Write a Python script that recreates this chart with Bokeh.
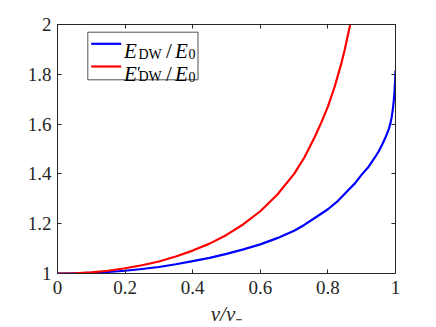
from bokeh.plotting import figure
from bokeh.models import LinearAxis, FixedTicker, NumeralTickFormatter, Label, Range1d, BoxAnnotation
from bokeh.embed import file_html
from bokeh.resources import INLINE

# ---- data ----
blue_v = [0.00, 0.05, 0.10, 0.15, 0.20, 0.25, 0.30, 0.35, 0.40, 0.45, 0.50, 0.55,
          0.60, 0.65, 0.70, 0.73, 0.76, 0.80, 0.83, 0.86, 0.88, 0.90, 0.92, 0.94,
          0.95, 0.96, 0.97, 0.975, 0.98, 0.985, 0.989, 0.992, 0.995, 0.997, 0.999, 1.000]
blue_e = [1.000, 1.001, 1.003, 1.006, 1.011, 1.018, 1.026, 1.037, 1.050, 1.063, 1.079, 1.097,
          1.117, 1.142, 1.172, 1.195, 1.222, 1.258, 1.292, 1.334, 1.362, 1.397, 1.428, 1.468,
          1.490, 1.516, 1.545, 1.562, 1.580, 1.603, 1.630, 1.658, 1.695, 1.730, 1.775, 1.815]

red_v = [0.00, 0.05, 0.10, 0.15, 0.20, 0.25, 0.30, 0.35, 0.40, 0.45, 0.50, 0.55,
         0.60, 0.65, 0.70, 0.73, 0.76, 0.78, 0.80, 0.82, 0.84, 0.85, 0.86, 0.866]
red_e = [1.000, 1.001, 1.005, 1.011, 1.021, 1.033, 1.048, 1.068, 1.092, 1.120, 1.155, 1.198,
         1.250, 1.316, 1.400, 1.465, 1.545, 1.605, 1.670, 1.750, 1.845, 1.900, 1.963, 2.000]

x_ticks = [0, 0.2, 0.4, 0.6, 0.8, 1]
y_ticks = [1, 1.2, 1.4, 1.6, 1.8, 2]
X0, X1 = 0, 1
Y0, Y1 = 1, 2

FW, FH = 338, 249
AX = "#262626"
FONT = "Liberation Serif"

p = figure(frame_width=FW, frame_height=FH, x_range=Range1d(X0, X1), y_range=Range1d(Y0, Y1),
           output_backend="svg", toolbar_location=None,
           min_border_left=57, min_border_right=33, min_border_top=24, min_border_bottom=46,
           x_axis_location=None, y_axis_location=None)
p.grid.visible = False
p.outline_line_color = None


def style(ax, labels=True):
    ax.axis_line_color = AX
    ax.axis_line_width = 1
    ax.major_tick_line_color = AX
    ax.major_tick_in = 4
    ax.major_tick_out = 0
    ax.minor_tick_line_color = None
    ax.major_label_text_font = FONT
    if labels:
        ax.major_label_text_font_size = "19px"
        ax.major_label_text_color = AX
    else:
        ax.major_label_text_font_size = "1px"
        ax.major_label_text_color = None
        ax.major_label_standoff = 0


xb = LinearAxis(ticker=FixedTicker(ticks=x_ticks), formatter=NumeralTickFormatter(format="0.[0]"))
style(xb)
xb.major_label_standoff = 7
xb.axis_label = "v/v\u208b"
xb.axis_label_text_font = FONT
xb.axis_label_text_font_style = "italic"
xb.axis_label_text_font_size = "21px"
xb.axis_label_text_color = AX
xb.axis_label_standoff = 5
p.add_layout(xb, "below")

yl = LinearAxis(ticker=FixedTicker(ticks=y_ticks), formatter=NumeralTickFormatter(format="0.[0]"))
style(yl)
yl.major_label_standoff = 6
p.add_layout(yl, "left")

xt = LinearAxis(ticker=FixedTicker(ticks=x_ticks))
style(xt, labels=False)
p.add_layout(xt, "above")
yr = LinearAxis(ticker=FixedTicker(ticks=y_ticks))
style(yr, labels=False)
p.add_layout(yr, "right")

p.line(blue_v, blue_e, line_color="#0000ff", line_width=2.2, line_join="round")
p.line(red_v, red_e, line_color="#ff0000", line_width=2.2, line_join="round")


# ---- hand-made legend (positions in frame pixels) ----
def fx(px):
    return X0 + px / FW * (X1 - X0)


def fy(py):
    return Y1 - py / FH * (Y1 - Y0)


box = BoxAnnotation(left=fx(30.3), right=fx(140.5), top=fy(7.7), bottom=fy(55.3),
                    fill_color="white", fill_alpha=1, line_color=AX, line_width=1,
                    line_alpha=0.8, level="annotation")
p.add_layout(box)

rows = [("#0000ff", 19.3, 26.7, False), ("#ff0000", 42.0, 49.3, True)]
for color, yc, base, prime in rows:
    r = p.line([fx(33.7), fx(63.7)], [fy(yc), fy(yc)], line_color=color, line_width=2.2)
    r.level = "overlay"
    pieces = [("E", 66.5, base, "italic", "21px")]
    if prime:
        pieces.append(("\u2032", 79.5, base - 1, "normal", "17px"))
    pieces += [("DW", 81.0, base + 3, "normal", "14px"),
               ("/", 108.5, base, "normal", "21px"),
               ("E", 117.5, base, "italic", "21px"),
               ("0", 131.0, base + 3, "normal", "14px")]
    for txt, px, py, st, sz in pieces:
        p.add_layout(Label(x=fx(px), y=fy(py), text=txt, text_font=FONT, text_font_style=st,
                           text_font_size=sz, text_color="black", text_baseline="alphabetic",
                           text_align="left", level="overlay"))

open("out.html", "w").write(file_html(p, INLINE))
